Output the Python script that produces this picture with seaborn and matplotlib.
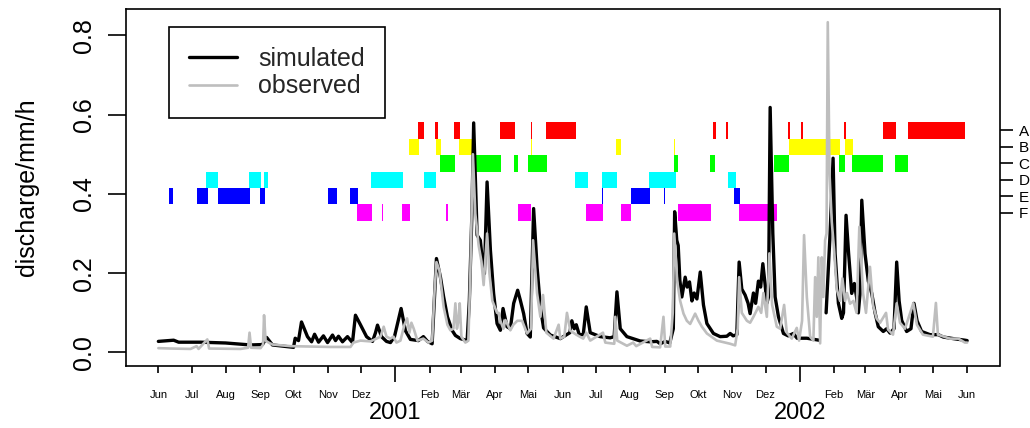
import numpy as np
import pandas as pd
import matplotlib
matplotlib.use("Agg")
import matplotlib.pyplot as plt
import matplotlib.dates as mdates
from matplotlib.lines import Line2D
import seaborn as sns

# ---------------- data ----------------
start = "2000-06-01"

# simulated discharge: days since start, value (mm/h); NaN = gap in record
sim_day = [0, 13.8, 18.3, 38.1, 60.7, 83.2, 94.0, 97.7, 103.0, 122.0, 123.5, 126.5, 129.2, 134.6,
           138.3, 141.0, 144.6, 149.0, 152.7, 157.2, 159.9, 162.6, 166.2, 170.7, 175.2, 177.9,
           182.4, 187.9, 193.3, 196.0, 197.8, 201.4, 205.9, 209.5, 213.1, 219.1, 223.0, 227.5,
           234.7, 239.2, 242.9, 247.1, 251.0, 254.6, 257.5, 260.9, 265.1, 268.1, 272.6, 278.7,
           280.7, 283.0, 284.6, 287.7, 290.6, 292.4, 294.3, 296.7, 299.7, 302.6, 305.7, 308.7,
           311.1, 314.7, 317.7, 320.7, 324.3, 326.7, 329.7, 332.8, 335.7, 338.7, 341.8, 344.8,
           347.7, 353.8, 362.8, 371.4, 373.2, 375.4, 377.2, 379.9, 383.5, 386.2, 389.8, 398.8,
           407.8, 411.4, 413.9, 416.9, 422.9, 434.9, 443.9, 450.0, 453.0, 457.5, 461.6, 464.8,
           466.0, 467.9, 469.2, 470.7, 472.5, 475.5, 477.3, 479.4, 481.6, 483.6, 486.1, 489.1,
           492.0, 495.1, 501.0, 507.1, 513.1, 516.1, 518.8, 522.1, 524.2, 526.6, 529.6, 532.3,
           534.1, 537.1, 539.1, 541.6, 543.6, 545.6, 547.7, 549.2, 550.7, 552.2, 554.6, 556.7,
           559.7, 564.2, 568.4, 573.2, 576.5, 585.3, 596.4, 599.0, 602.7, 606.3, 609.0, 610.8,
           613.8, 616.8, 618.4, 620.7, 623.0, 625.8, 628.2, 630.2, 631.8, 633.3, 634.9, 637.8,
           640.8, 643.9, 646.9, 649.8, 654.3, 657.4, 660.4, 664.0, 666.4, 668.6, 670.9, 675.4,
           679.3, 682.0, 684.8, 688.9, 696.4, 703.9, 708.4, 717.5, 728.0, 730.0]
sim_val = [0.028, 0.031, 0.026, 0.026, 0.024, 0.019, 0.020, 0.038, 0.019, 0.013, 0.036, 0.030, 0.077, 0.040,
           0.027, 0.046, 0.026, 0.042, 0.025, 0.044, 0.030, 0.041, 0.027, 0.040, 0.025, 0.094,
           0.070, 0.040, 0.028, 0.050, 0.069, 0.040, 0.028, 0.025, 0.040, 0.111, 0.055, 0.033,
           0.030, 0.040, 0.028, 0.022, 0.237, 0.190, 0.140, 0.090, 0.056, 0.043, 0.035, 0.030,
           0.130, 0.350, 0.579, 0.296, 0.283, 0.233, 0.199, 0.430, 0.258, 0.149, 0.073, 0.056,
           0.111, 0.065, 0.060, 0.124, 0.157, 0.132, 0.098, 0.048, 0.039, 0.363, 0.216, 0.115,
           0.062, 0.044, 0.035, 0.050, 0.080, 0.060, 0.070, 0.045, 0.045, 0.115, 0.050, 0.040,
           0.037, 0.040, 0.153, 0.060, 0.040, 0.029, 0.027, 0.028, 0.022, 0.028, 0.024, 0.060,
           0.355, 0.283, 0.270, 0.182, 0.140, 0.190, 0.165, 0.178, 0.130, 0.150, 0.135, 0.203,
           0.120, 0.073, 0.048, 0.040, 0.041, 0.048, 0.042, 0.045, 0.228, 0.160, 0.145, 0.124,
           0.098, 0.150, 0.124, 0.180, 0.165, 0.224, 0.170, 0.124, 0.140, 0.618, 0.300, 0.140,
           0.090, 0.048, 0.042, 0.048, 0.036, 0.036, 0.031, np.nan, 0.100, 0.300, 0.490, 0.250,
           0.124, 0.086, 0.100, 0.346, 0.250, 0.149, 0.174, 0.140, 0.100, 0.150, 0.384, 0.250,
           0.180, 0.149, 0.100, 0.065, 0.053, 0.060, 0.049, 0.060, 0.228, 0.130, 0.081, 0.053,
           0.060, 0.124, 0.080, 0.053, 0.045, 0.045, 0.039, 0.035, 0.031, 0.030]

# observed discharge
obs_day = [0, 11.1, 29.1, 34.5, 36.3, 44.2, 45.8, 74.2, 81.0, 82.3, 83.7, 92.3, 94.5, 95.4, 96.8,
           99.5, 103.1, 119.3, 155.4, 173.4, 176.1, 182.4, 191.4, 196.9, 200.5, 203.4, 205.9,
           209.5, 212.2, 214.9, 218.5, 222.1, 224.5, 226.6, 228.4, 230.5, 233.8, 239.2, 243.8,
           247.1, 249.2, 251.0, 253.7, 257.5, 260.9, 263.6, 266.3, 268.1, 269.5, 270.8, 272.0,
           273.5, 277.1, 279.8, 281.6, 283.9, 286.1, 289.1, 291.6, 293.6, 296.7, 298.8, 301.5,
           305.7, 307.2, 308.7, 311.4, 313.2, 317.7, 320.4, 324.0, 328.3, 332.8, 336.4, 338.2,
           341.8, 344.8, 347.2, 350.2, 356.7, 361.3, 362.8, 366.4, 368.8, 371.8, 377.2, 383.5,
           386.2, 389.8, 401.3, 403.4, 411.5, 412.4, 414.2, 422.9, 428.6, 431.3, 443.9, 445.7,
           452.9, 455.9, 457.5, 462.0, 464.3, 465.6, 468.3, 471.0, 474.0, 477.0, 480.0, 484.5,
           487.5, 490.6, 495.1, 504.1, 516.1, 520.6, 522.9, 524.2, 526.6, 531.2, 534.1, 537.1,
           541.6, 544.1, 546.1, 549.2, 551.5, 554.0, 558.2, 561.2, 564.8, 567.2, 571.7, 576.2,
           578.3, 581.0, 582.8, 585.3, 588.3, 591.2, 592.8, 594.3, 595.7, 597.3, 598.8, 600.2,
           601.8, 603.1, 604.2, 605.8, 607.8, 609.9, 612.3, 615.3, 617.4, 619.8, 621.6, 624.3,
           627.3, 630.2, 632.7, 636.0, 638.7, 642.3, 645.0, 648.4, 651.4, 656.8, 658.6, 663.1,
           666.4, 669.4, 673.9, 681.4, 684.7, 690.1, 699.1, 701.8, 703.6, 714.5, 722.0, 728.0, 730.0]
obs_val = [0.011, 0.010, 0.009, 0.016, 0.009, 0.033, 0.010, 0.009, 0.012, 0.050, 0.012, 0.011, 0.020, 0.094, 0.030,
           0.025, 0.020, 0.016, 0.014, 0.014, 0.025, 0.030, 0.028, 0.035, 0.040, 0.065, 0.040,
           0.035, 0.040, 0.025, 0.030, 0.070, 0.086, 0.050, 0.075, 0.060, 0.030, 0.035, 0.025,
           0.030, 0.150, 0.228, 0.207, 0.115, 0.070, 0.056, 0.060, 0.124, 0.060, 0.080, 0.124,
           0.040, 0.025, 0.030, 0.200, 0.500, 0.350, 0.270, 0.230, 0.170, 0.300, 0.200, 0.130,
           0.100, 0.100, 0.080, 0.060, 0.082, 0.056, 0.070, 0.080, 0.080, 0.048, 0.060, 0.283,
           0.150, 0.090, 0.145, 0.050, 0.035, 0.070, 0.035, 0.040, 0.100, 0.055, 0.045, 0.035,
           0.050, 0.030, 0.050, 0.025, 0.022, 0.090, 0.030, 0.017, 0.025, 0.016, 0.035, 0.014,
           0.013, 0.090, 0.015, 0.015, 0.100, 0.300, 0.180, 0.130, 0.098, 0.080, 0.072, 0.098,
           0.080, 0.065, 0.048, 0.030, 0.022, 0.018, 0.060, 0.190, 0.100, 0.080, 0.075, 0.090,
           0.115, 0.100, 0.150, 0.090, 0.250, 0.120, 0.065, 0.060, 0.120, 0.050, 0.035, 0.062,
           0.030, 0.080, 0.296, 0.140, 0.040, 0.030, 0.190, 0.090, 0.240, 0.023, 0.240, 0.140,
           0.283, 0.300, 0.833, 0.450, 0.330, 0.260, 0.160, 0.130, 0.187, 0.130, 0.150, 0.123,
           0.130, 0.100, 0.317, 0.150, 0.100, 0.216, 0.120, 0.085, 0.075, 0.100, 0.058, 0.045,
           0.124, 0.075, 0.060, 0.124, 0.070, 0.045, 0.040, 0.125, 0.045, 0.035, 0.035, 0.025, 0.025]

# periods (start, end) for classes A-F
period_names = ["A", "B", "C", "D", "E", "F"]
period_colors = ["#FF0000", "#FFFF00", "#00FF00", "#00FFFF", "#0000FF", "#FF00FF"]
periods_A = [("2001-01-21", "2001-01-27"), ("2001-02-06", "2001-02-08"), ("2001-02-23", "2001-02-28"),
             ("2001-04-05", "2001-04-19"), ("2001-05-03", "2001-05-04"), ("2001-05-17", "2001-06-13"),
             ("2001-10-15", "2001-10-17"), ("2001-10-26", "2001-10-28"), ("2001-12-21", "2001-12-23"),
             ("2002-01-02", "2002-01-04"), ("2002-02-10", "2002-02-12"), ("2002-03-17", "2002-03-29"),
             ("2002-04-09", "2002-05-30")]
periods_B = [("2001-01-13", "2001-01-22"), ("2001-02-07", "2001-02-11"), ("2001-02-27", "2001-03-13"),
             ("2001-05-03", "2001-05-04"), ("2001-07-19", "2001-07-24"), ("2001-09-09", "2001-09-10"),
             ("2001-12-22", "2002-02-06"), ("2002-02-11", "2002-02-18")]
periods_C = [("2001-02-10", "2001-02-24"), ("2001-03-12", "2001-04-06"), ("2001-04-18", "2001-04-22"),
             ("2001-05-01", "2001-05-18"), ("2001-09-09", "2001-09-13"), ("2001-10-12", "2001-10-16"),
             ("2001-12-09", "2001-12-22"), ("2002-02-05", "2002-02-11"), ("2002-02-17", "2002-03-17"),
             ("2002-03-28", "2002-04-09")]
periods_D = [("2000-07-14", "2000-07-25"), ("2000-08-22", "2000-09-02"), ("2000-09-04", "2000-09-08"),
             ("2000-12-10", "2001-01-08"), ("2001-01-27", "2001-02-07"), ("2001-06-12", "2001-06-24"),
             ("2001-07-06", "2001-07-20"), ("2001-08-18", "2001-09-11"), ("2001-10-28", "2001-11-04")]
periods_E = [("2000-06-11", "2000-06-14"), ("2000-07-06", "2000-07-16"), ("2000-07-25", "2000-08-23"),
             ("2000-09-01", "2000-09-05"), ("2000-11-01", "2000-11-09"), ("2000-11-21", "2000-11-28"),
             ("2001-07-06", "2001-07-07"), ("2001-08-02", "2001-08-19"), ("2001-08-31", "2001-09-01"),
             ("2001-11-03", "2001-11-08")]
periods_F = [("2000-11-27", "2000-12-11"), ("2000-12-20", "2000-12-21"), ("2001-01-07", "2001-01-14"),
             ("2001-02-16", "2001-02-17"), ("2001-04-22", "2001-05-03"), ("2001-06-22", "2001-07-07"),
             ("2001-07-24", "2001-08-02"), ("2001-09-13", "2001-10-13"), ("2001-11-07", "2001-12-11")]
periods = [periods_A, periods_B, periods_C, periods_D, periods_E, periods_F]

month_labels = ["Jun", "Jul", "Aug", "Sep", "Okt", "Nov", "Dez", "Feb", "Mär", "Apr", "Mai", "Jun",
                "Jul", "Aug", "Sep", "Okt", "Nov", "Dez", "Feb", "Mär", "Apr", "Mai", "Jun"]
year_labels = ["2001", "2002"]
y_ticks = [0.0, 0.2, 0.4, 0.6, 0.8]
legend_labels = ["simulated", "observed"]
y_label = "discharge/mm/h"

# ---------------- build frames ----------------
t0 = pd.Timestamp(start)
sim = pd.DataFrame({"date": t0 + pd.to_timedelta(sim_day, unit="D"), "value": sim_val})
sim["seg"] = sim["value"].isna().cumsum()
sim = sim.dropna()
obs = pd.DataFrame({"date": t0 + pd.to_timedelta(obs_day, unit="D"), "value": obs_val})

# ---------------- style ----------------
sns.set_theme(style="ticks")
plt.rcParams["font.family"] = ["Liberation Sans", "DejaVu Sans"]

W, H = 1030, 428
fig = plt.figure(figsize=(W / 100, H / 100), dpi=100)
L, R, T, B = 126, 999.5, 9, 365.7
ax = fig.add_axes([L / W, 1 - B / H, (R - L) / W, (B - T) / H])

# period bars
bar_h = 0.0415
centers = [0.56 - bar_h * i for i in range(len(period_names))]
for rows, col, c in zip(periods, period_colors, centers):
    xr = []
    for s, e in rows:
        s0 = mdates.date2num(pd.Timestamp(s))
        e0 = mdates.date2num(pd.Timestamp(e))
        xr.append((s0, max(e0 - s0, 1.2)))
    ax.broken_barh(xr, (c - bar_h / 2, bar_h), facecolors=col, edgecolor="none", zorder=1)

# lines
sns.lineplot(data=sim, x="date", y="value", units="seg", estimator=None, sort=False,
             color="black", lw=2.4, ax=ax, zorder=3)
sns.lineplot(data=obs, x="date", y="value", estimator=None, sort=False,
             color="#BEBEBE", lw=1.9, ax=ax, zorder=4)

# limits
pad = pd.Timedelta(days=29.2)
ax.set_xlim(t0 - pad, t0 + pd.Timedelta(days=730) + pad)
ax.set_ylim(-0.0333, 0.8663)

# x axis
month_starts = pd.date_range(start, periods=25, freq="MS")
minor = [d for d in month_starts if d.month != 1]
major = [d for d in month_starts if d.month == 1]
ax.set_xticks(major)
ax.set_xticklabels(year_labels)
ax.set_xticks(minor, minor=True)
ax.set_xticklabels(month_labels, minor=True)
ax.tick_params(axis="x", which="major", length=11.5, width=1.2, pad=14.5, labelsize=17, colors="black")
ax.tick_params(axis="x", which="minor", length=5, width=1.2, pad=12.5, labelsize=8, colors="black")
ax.set_xlabel("")

# y axis
ax.set_yticks(y_ticks)
ax.set_yticklabels([f"{v:.1f}" for v in y_ticks])
ax.tick_params(axis="y", length=12.7, width=1.2, pad=9, labelsize=18, colors="black")
for t in ax.get_yticklabels():
    t.set_rotation(90)
    t.set_va("center")
ax.set_ylabel(y_label, fontsize=18, color="black")
ax.yaxis.set_label_coords(-0.113, 0.5)
ax.yaxis.label.set_va("center")

for sp in ax.spines.values():
    sp.set_visible(True)
    sp.set_color("black")
    sp.set_linewidth(1.2)

# right axis for classes
ax2 = ax.twinx()
ax2.set_ylim(ax.get_ylim())
ax2.set_yticks(centers)
ax2.set_yticklabels(period_names)
ax2.tick_params(axis="y", length=9.7, width=1.2, pad=4, labelsize=11, colors="black")
for sp in ax2.spines.values():
    sp.set_visible(False)

# legend
handles = [Line2D([], [], color="black", lw=2.4), Line2D([], [], color="#BEBEBE", lw=1.9)]
leg = ax.legend(handles, legend_labels, loc="upper left",
                bbox_to_anchor=((169.3 - L) / (R - L), 1 - (26.7 - T) / (B - T)),
                fontsize=18, frameon=True, fancybox=False, edgecolor="black", framealpha=1,
                handlelength=1.9, handletextpad=0.85, borderpad=0.8, labelspacing=0.15,
                borderaxespad=0)
leg.get_frame().set_linewidth(1.2)
leg.set_zorder(10)

fig.savefig("out.png", dpi=100)
